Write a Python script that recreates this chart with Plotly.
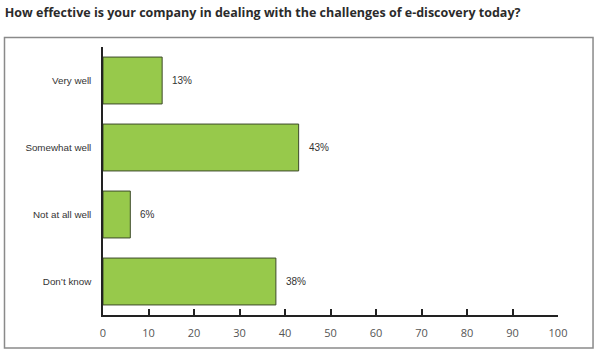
import plotly.graph_objects as go

categories = ["Very well", "Somewhat well", "Not at all well", "Don\u2019t know"]
values = [13, 43, 6, 38]
tick_vals = [0, 10, 20, 30, 40, 50, 60, 70, 80, 90, 100]
title = "How effective is your company in dealing with the challenges of e-discovery today?"

fig = go.Figure()
fig.add_trace(go.Bar(
    y=categories, x=values, orientation="h",
    marker=dict(color="#97c94b", line=dict(color="#3d4a2a", width=1)),
    width=0.7, hoverinfo="skip",
))

for c, v in zip(categories, values):
    fig.add_annotation(x=v, y=c, text=f"{v}%", showarrow=False,
                       xanchor="left", xshift=8,
                       font=dict(family="Arial, Liberation Sans", size=10, color="#333333"))

fig.add_shape(type="rect", xref="paper", yref="paper",
              x0=-0.2165, x1=1.077, y0=-0.123, y1=1.035,
              line=dict(color="#8a8a8a", width=1.5), layer="below")

fig.update_layout(
    width=600, height=354,
    margin=dict(l=103, r=42, t=47, b=39),
    paper_bgcolor="white", plot_bgcolor="white",
    showlegend=False,
    title=dict(text=f"<b>{title}</b>", x=0.008, xanchor="left", y=0.965, yanchor="middle",
               font=dict(family="Open Sans, Liberation Sans", size=12.5, color="#2b2b2b")),
    xaxis=dict(range=[0, 100], tickvals=tick_vals, showgrid=False, zeroline=False,
               showline=True, linecolor="#222222", linewidth=1.5,
               ticks="inside", ticklen=6, tickcolor="#222222", tickwidth=1.5,
               ticklabelstandoff=7,
               tickfont=dict(family="Open Sans, Liberation Sans", size=11, color="#555555"),
               fixedrange=True),
    yaxis=dict(autorange="reversed", showgrid=False, zeroline=False,
               showline=True, linecolor="#222222", linewidth=1.5, ticks="",
               ticklabelstandoff=8,
               tickfont=dict(family="Arial, Liberation Sans", size=9.8, color="#333333"),
               fixedrange=True),
)

fig.write_html("out.html")
